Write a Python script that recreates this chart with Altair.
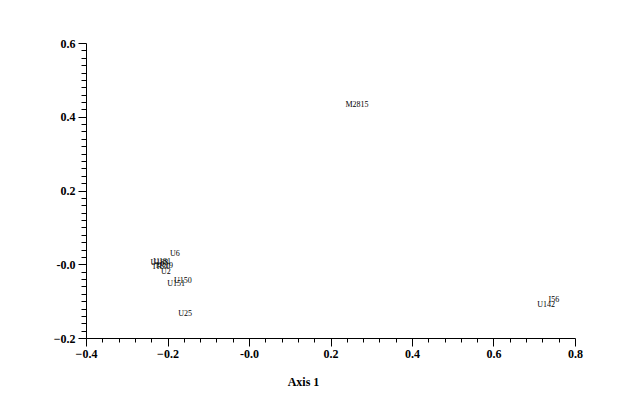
import altair as alt
import pandas as pd

labels = ["M2815", "U6", "U181", "U188", "TR30", "TR19", "U2", "U150", "U151", "U25", "I56", "U142"]
axis1 = [0.265, -0.182, -0.213, -0.220, -0.216, -0.209, -0.204, -0.162, -0.179, -0.157, 0.748, 0.729]
axis2 = [0.432, 0.028, 0.006, 0.004, -0.008, -0.006, -0.021, -0.045, -0.054, -0.135, -0.097, -0.111]

x_ticks = [round(-0.4 + 0.04 * i, 2) for i in range(31)]
y_ticks = [round(-0.2 + 0.02 * i, 2) for i in range(41)]

df = pd.DataFrame({"label": labels, "x": axis1, "y": axis2})

FONT = "Liberation Serif"
major = "abs(datum.value*5 - round(datum.value*5)) < 0.001"
lab_expr = "(" + major + ") ? (abs(datum.value) < 0.001 ? '-0.0' : format(datum.value, '.1f')) : ''"

x_axis = alt.Axis(
    values=x_ticks, title="Axis 1", grid=False, domainColor="black", tickColor="black",
    tickSize={"condition": {"test": major, "value": 8}, "value": 4},
    labelExpr=lab_expr, labelOverlap=False, labelFlush=False, labelFont=FONT, labelFontWeight="bold",
    labelFontSize=12, labelColor="black", labelPadding=2,
    titleFont=FONT, titleFontWeight="bold", titleFontSize=12, titleColor="black",
    titleX=217, titleY=43, titleBaseline="middle", titleAnchor="start", titleAlign="center",
)
y_axis = alt.Axis(
    values=y_ticks, title=None, grid=False, domainColor="black", tickColor="black",
    tickSize={"condition": {"test": major, "value": 8}, "value": 5},
    labelExpr=lab_expr, labelOverlap=False, labelFlush=False, labelFont=FONT, labelFontWeight="bold",
    labelFontSize=12, labelColor="black", labelPadding=3,
)

chart = alt.Chart(df).mark_text(font=FONT, fontSize=8, fill="black").encode(
    x=alt.X("x:Q", scale=alt.Scale(domain=[-0.4, 0.8], nice=False, zero=False), axis=x_axis),
    y=alt.Y("y:Q", scale=alt.Scale(domain=[-0.2, 0.6], nice=False, zero=False), axis=y_axis),
    text="label:N",
).properties(
    width=489, height=295,
    autosize=alt.AutoSizeParams(type="none"),
    padding={"left": 78, "top": 35, "right": 41, "bottom": 67},
).configure_view(stroke=None)

chart.save("out.html", embed_options={"renderer": "svg", "actions": False})
